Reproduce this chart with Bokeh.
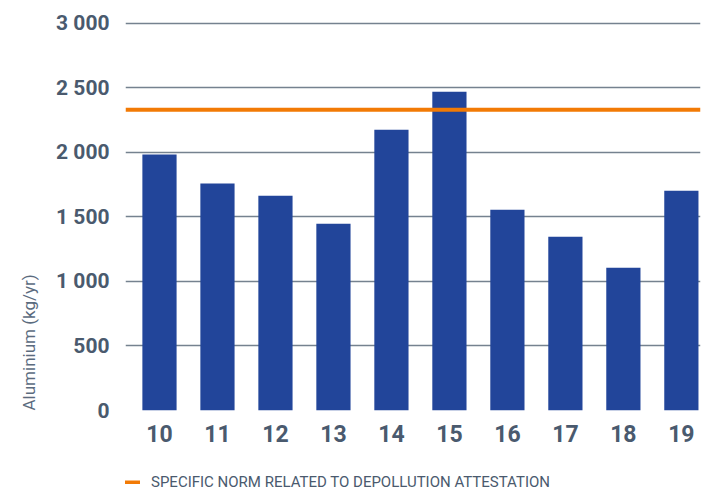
from bokeh.plotting import figure
from bokeh.layouts import column
from bokeh.models import Range1d, Title, Legend, LegendItem, FixedTicker, ColumnDataSource
from bokeh.embed import file_html
from bokeh.resources import INLINE

# ---- data ----
years = ["10", "11", "12", "13", "14", "15", "16", "17", "18", "19"]
aluminium = [1985, 1760, 1665, 1448, 2176, 2471, 1557, 1347, 1106, 1704]
norm_value = 2332
norm_label = "SPECIFIC NORM RELATED TO DEPOLLUTION ATTESTATION"
y_ticks = [0, 500, 1000, 1500, 2000, 2500, 3000]
y_tick_labels = ["0", "500", "1 000", "1 500", "2 000", "2 500", "3 000"]
y_title = "Aluminium (kg/yr)"

FONT = "Roboto"
BAR = "#22459A"
ORANGE = "#F27A05"
TXT = "#4A5A6E"
GRID = "#75828F"

idx = list(range(len(years)))
src = ColumnDataSource(dict(x=idx, top=aluminium))

x_lo, x_hi = -0.586, 9.33
p = figure(width=701, height=460, output_backend="svg", toolbar_location=None,
           x_range=Range1d(x_lo, x_hi), y_range=Range1d(0, 3085),
           min_border_left=125, min_border_right=1, min_border_top=12,
           min_border_bottom=50)
p.outline_line_color = None
p.background_fill_color = "white"
p.border_fill_color = "white"

p.vbar(x="x", top="top", width=0.59, source=src, color=BAR, line_color=None)
p.line(x=[x_lo, x_hi], y=[norm_value, norm_value], line_color=ORANGE, line_width=4)

# axes
p.xgrid.visible = False
p.ygrid.grid_line_color = GRID
p.ygrid.grid_line_width = 1.5
p.ygrid.ticker = FixedTicker(ticks=y_ticks)

p.yaxis.ticker = FixedTicker(ticks=y_ticks)
p.yaxis.major_label_overrides = {t: l for t, l in zip(y_ticks, y_tick_labels)}
p.yaxis.axis_line_color = None
p.yaxis.major_tick_line_color = None
p.yaxis.minor_tick_line_color = None
p.yaxis.major_tick_out = 0
p.yaxis.minor_tick_out = 0
p.yaxis.major_label_standoff = 16
p.yaxis.major_label_text_font = FONT
p.yaxis.major_label_text_font_style = "bold"
p.yaxis.major_label_text_font_size = "21px"
p.yaxis.major_label_text_color = TXT
p.yaxis.axis_label = " "
p.yaxis.axis_label_text_font_size = "1px"
p.yaxis.axis_label_standoff = 2

p.xaxis.ticker = FixedTicker(ticks=idx)
p.xaxis.major_label_overrides = {i: y for i, y in zip(idx, years)}
p.xaxis.axis_line_color = None
p.xaxis.major_tick_line_color = None
p.xaxis.minor_tick_line_color = None
p.xaxis.major_tick_out = 0
p.xaxis.minor_tick_out = 0
p.xaxis.major_label_standoff = 14
p.xaxis.major_label_text_font = FONT
p.xaxis.major_label_text_font_style = "bold"
p.xaxis.major_label_text_font_size = "23px"
p.xaxis.major_label_text_color = TXT

# y-axis title
p.add_layout(Title(text=y_title, align="left", text_font=FONT, text_font_style="normal",
                   text_font_size="17px", text_color="#5B6B7E", standoff=16), "left")

# legend strip
lg = figure(width=701, height=31, output_backend="svg", toolbar_location=None,
            x_range=Range1d(0, 1), y_range=Range1d(0, 1),
            x_axis_location=None, y_axis_location=None,
            min_border=0, outline_line_color=None)
lg.grid.visible = False
norm_r = lg.line(x=[0, 1], y=[norm_value, norm_value], line_color=ORANGE, line_width=4)
legend = Legend(items=[LegendItem(label=norm_label, renderers=[norm_r])],
                location=(-1, 0), orientation="horizontal",
                label_text_font=FONT, label_text_font_size="15px",
                label_text_color=TXT, glyph_width=16, glyph_height=4,
                label_standoff=11, padding=2, margin=0, spacing=0,
                border_line_color=None, background_fill_alpha=0)
lg.add_layout(legend)

open("out.html", "w").write(file_html(column(p, lg, spacing=0), INLINE))
